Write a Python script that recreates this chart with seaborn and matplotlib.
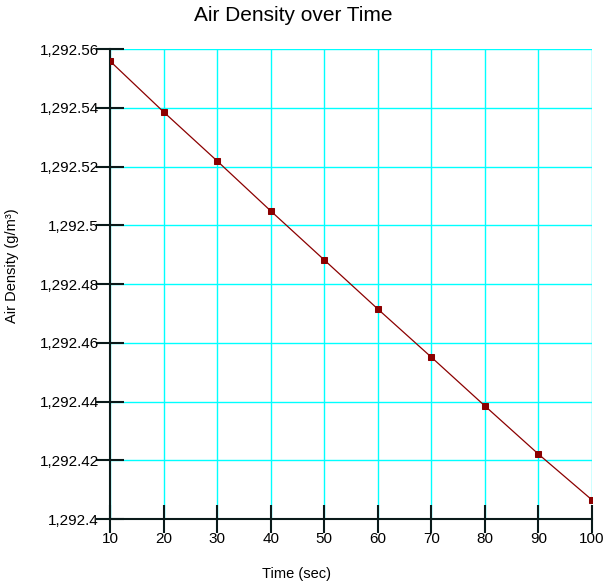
import pandas as pd
import matplotlib
matplotlib.use("Agg")
import matplotlib.pyplot as plt
import seaborn as sns
from matplotlib.ticker import FuncFormatter, MultipleLocator

# Data
time_sec = [10, 20, 30, 40, 50, 60, 70, 80, 90, 100]
air_density = [1292.5559, 1292.5386, 1292.5219, 1292.5049, 1292.4882,
               1292.4715, 1292.4551, 1292.4385, 1292.4221, 1292.4065]

df = pd.DataFrame({"time": time_sec, "density": air_density})

sns.set_style("white")
plt.rcParams["font.family"] = ["Liberation Sans", "DejaVu Sans"]
plt.rcParams["text.color"] = "black"
plt.rcParams["axes.labelcolor"] = "black"
plt.rcParams["xtick.color"] = "black"
plt.rcParams["ytick.color"] = "black"

fig = plt.figure(figsize=(6.05, 5.82), dpi=100)
ax = fig.add_axes([0.1818, 0.1082, 0.7967, 0.8076])

sns.lineplot(data=df, x="time", y="density", ax=ax, color="#8b0000",
             linewidth=0.9, marker="s", markersize=4.5,
             markeredgecolor="#8b0000", markerfacecolor="#8b0000", zorder=4)

ax.set_xlim(10, 100)
ax.set_ylim(1292.4, 1292.56)
ax.xaxis.set_major_locator(MultipleLocator(10))
ax.yaxis.set_major_locator(MultipleLocator(0.02))


def fmt(v, pos):
    s = f"{v:,.2f}".rstrip("0").rstrip(".")
    return s


ax.yaxis.set_major_formatter(FuncFormatter(fmt))

ax.grid(True, color="#00ffff", linewidth=1)
ax.set_axisbelow(True)
for side in ["top", "right"]:
    ax.spines[side].set_visible(False)
for side in ["left", "bottom"]:
    ax.spines[side].set_color("#0a1a1a")
    ax.spines[side].set_linewidth(1.5)
    ax.spines[side].set_zorder(3)

ax.tick_params(axis="both", which="major", bottom=True, left=True,
               direction="inout", length=20, width=1.5,
               color="#0a1a1a", labelcolor="black", labelsize=11)
ax.tick_params(axis="x", pad=-1)
ax.tick_params(axis="y", pad=-2)

ax.set_title("Air Density over Time", fontsize=15, x=0.38, y=1.0, pad=20)

ax.set_xlabel("Time (sec)", fontsize=10.5)
ax.xaxis.label.set_verticalalignment("center")
ax.xaxis.set_label_coords(0.386, -0.117)

ax.set_ylabel("Air Density (g/m³)", fontsize=10.5)
ax.yaxis.label.set_horizontalalignment("center")
ax.yaxis.label.set_verticalalignment("center")
ax.yaxis.set_label_coords(-0.203, 0.54)

fig.savefig("out.png", dpi=100)
plt.close(fig)
